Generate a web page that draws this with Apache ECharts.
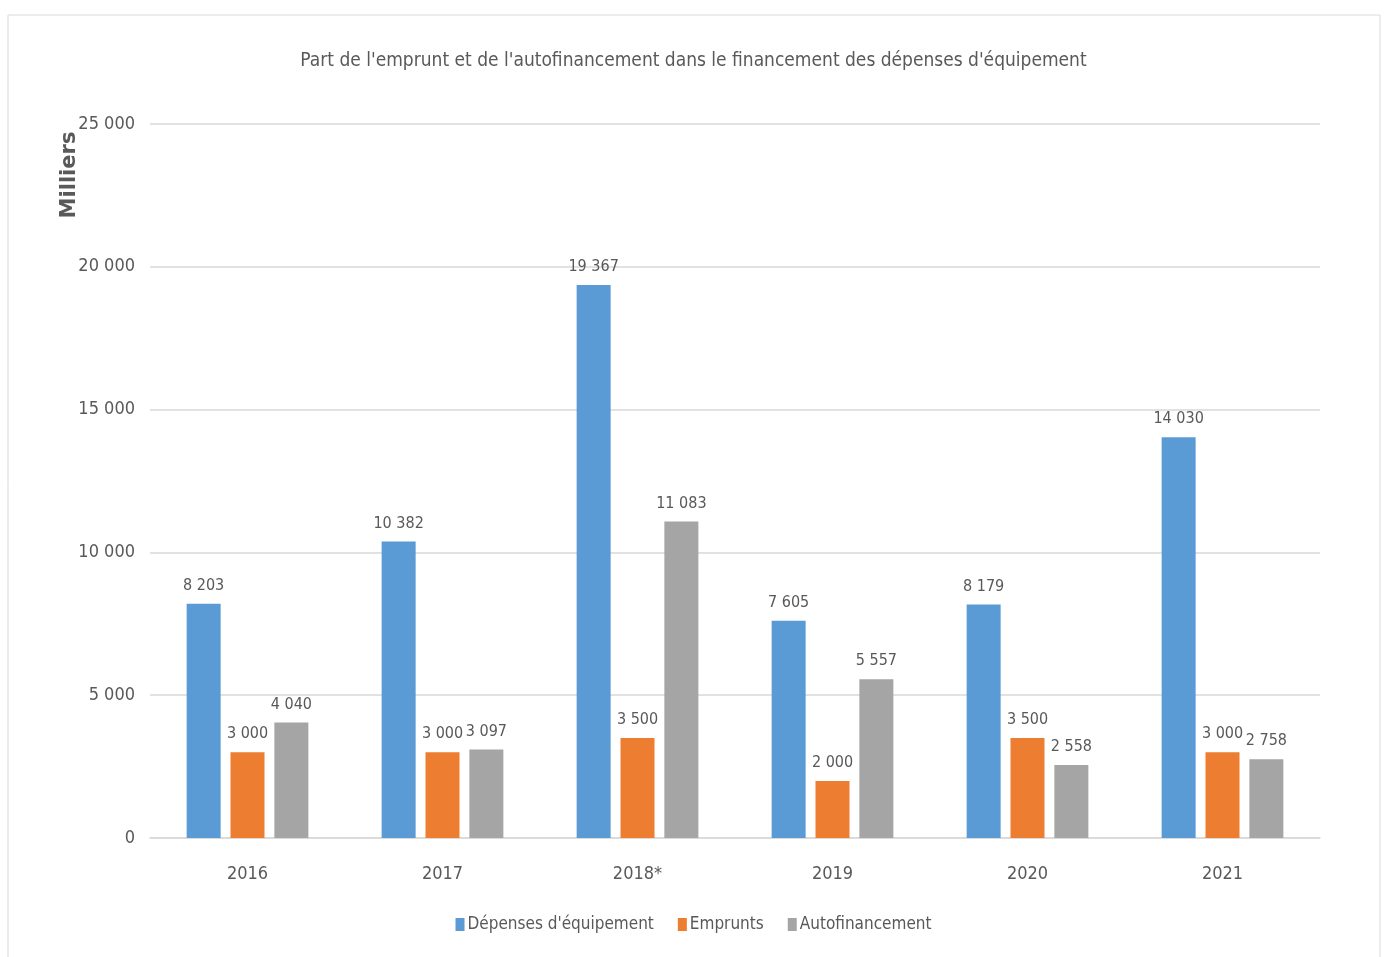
<!DOCTYPE html>
<html><head><meta charset="utf-8">
<script src="https://cdn.jsdelivr.net/npm/echarts@6/dist/echarts.min.js"></script>
<style>html,body{margin:0;padding:0;background:#fff}#c{width:1387px;height:957px}</style>
</head><body><div id="c"></div>
<script>
const categories = ['2016', '2017', '2018*', '2019', '2020', '2021'];
const depenses = [8203, 10382, 19367, 7605, 8179, 14030];
const emprunts = [3000, 3000, 3500, 2000, 3500, 3000];
const autofinancement = [4040, 3097, 11083, 5557, 2558, 2758];
const seriesNames = ["Dépenses d'équipement", 'Emprunts', 'Autofinancement'];
const yTicks = [0, 5000, 10000, 15000, 20000, 25000];

const FONT = "'Liberation Sans Narrow','DejaVu Sans Condensed',sans-serif";
const TXT = '#595959';
const fmt = v => String(v).replace(/\B(?=(\d{3})+(?!\d))/g, ' ');

const chart = echarts.init(document.getElementById('c'), null, {renderer: 'canvas'});
const labelCfg = {
  show: true, position: 'top', distance: 10, color: TXT, fontFamily: FONT, fontSize: 16,
  formatter: p => fmt(p.value)
};
function mk(name, data, color) {
  return {
    name, type: 'bar', data, barWidth: 34, barGap: '29%', barCategoryGap: '37%',
    itemStyle: {color}, label: labelCfg
  };
}
chart.setOption({
  animation: false,
  textStyle: {fontFamily: FONT},
  title: {
    text: "Part de l'emprunt et de l'autofinancement dans le financement des dépenses d'équipement",
    left: 'center', top: 47,
    textStyle: {color: TXT, fontSize: 19, fontWeight: 'normal', fontFamily: FONT}
  },
  graphic: [
    {type: 'rect', shape: {x: 8, y: 15, width: 1372, height: 960}, style: {fill: 'none', stroke: '#d9d9d9', lineWidth: 1}, silent: true},
    {type: 'text', x: 70, y: 175, rotation: Math.PI / 2,
     style: {text: 'Milliers', fill: TXT, font: "bold 21px 'DejaVu Sans',sans-serif", textAlign: 'center', textVerticalAlign: 'middle'}}
  ],
  legend: {
    data: seriesNames, bottom: 19, left: 'center', itemWidth: 9, itemHeight: 13, itemGap: 24,
    icon: 'rect',
    textStyle: {color: TXT, fontSize: 17, fontFamily: FONT, padding: [0, 0, 0, -2]}
  },
  grid: {left: 150, right: 67, top: 124, bottom: 119, containLabel: false},
  xAxis: {
    type: 'category', data: categories,
    axisLine: {lineStyle: {color: '#d9d9d9', width: 1.5}},
    axisTick: {show: false},
    axisLabel: {color: TXT, fontSize: 18, fontFamily: FONT, margin: 27}
  },
  yAxis: {
    type: 'value', min: yTicks[0], max: yTicks[yTicks.length - 1], interval: 5000,
    axisLine: {show: false}, axisTick: {show: false},
    splitLine: {lineStyle: {color: '#d9d9d9', width: 1.5}},
    axisLabel: {color: TXT, fontSize: 18, fontFamily: FONT, margin: 15, formatter: v => fmt(v)}
  },
  series: [
    mk(seriesNames[0], depenses, '#5B9BD5'),
    mk(seriesNames[1], emprunts, '#ED7D31'),
    mk(seriesNames[2], autofinancement, '#A5A5A5')
  ]
});
</script></body></html>
